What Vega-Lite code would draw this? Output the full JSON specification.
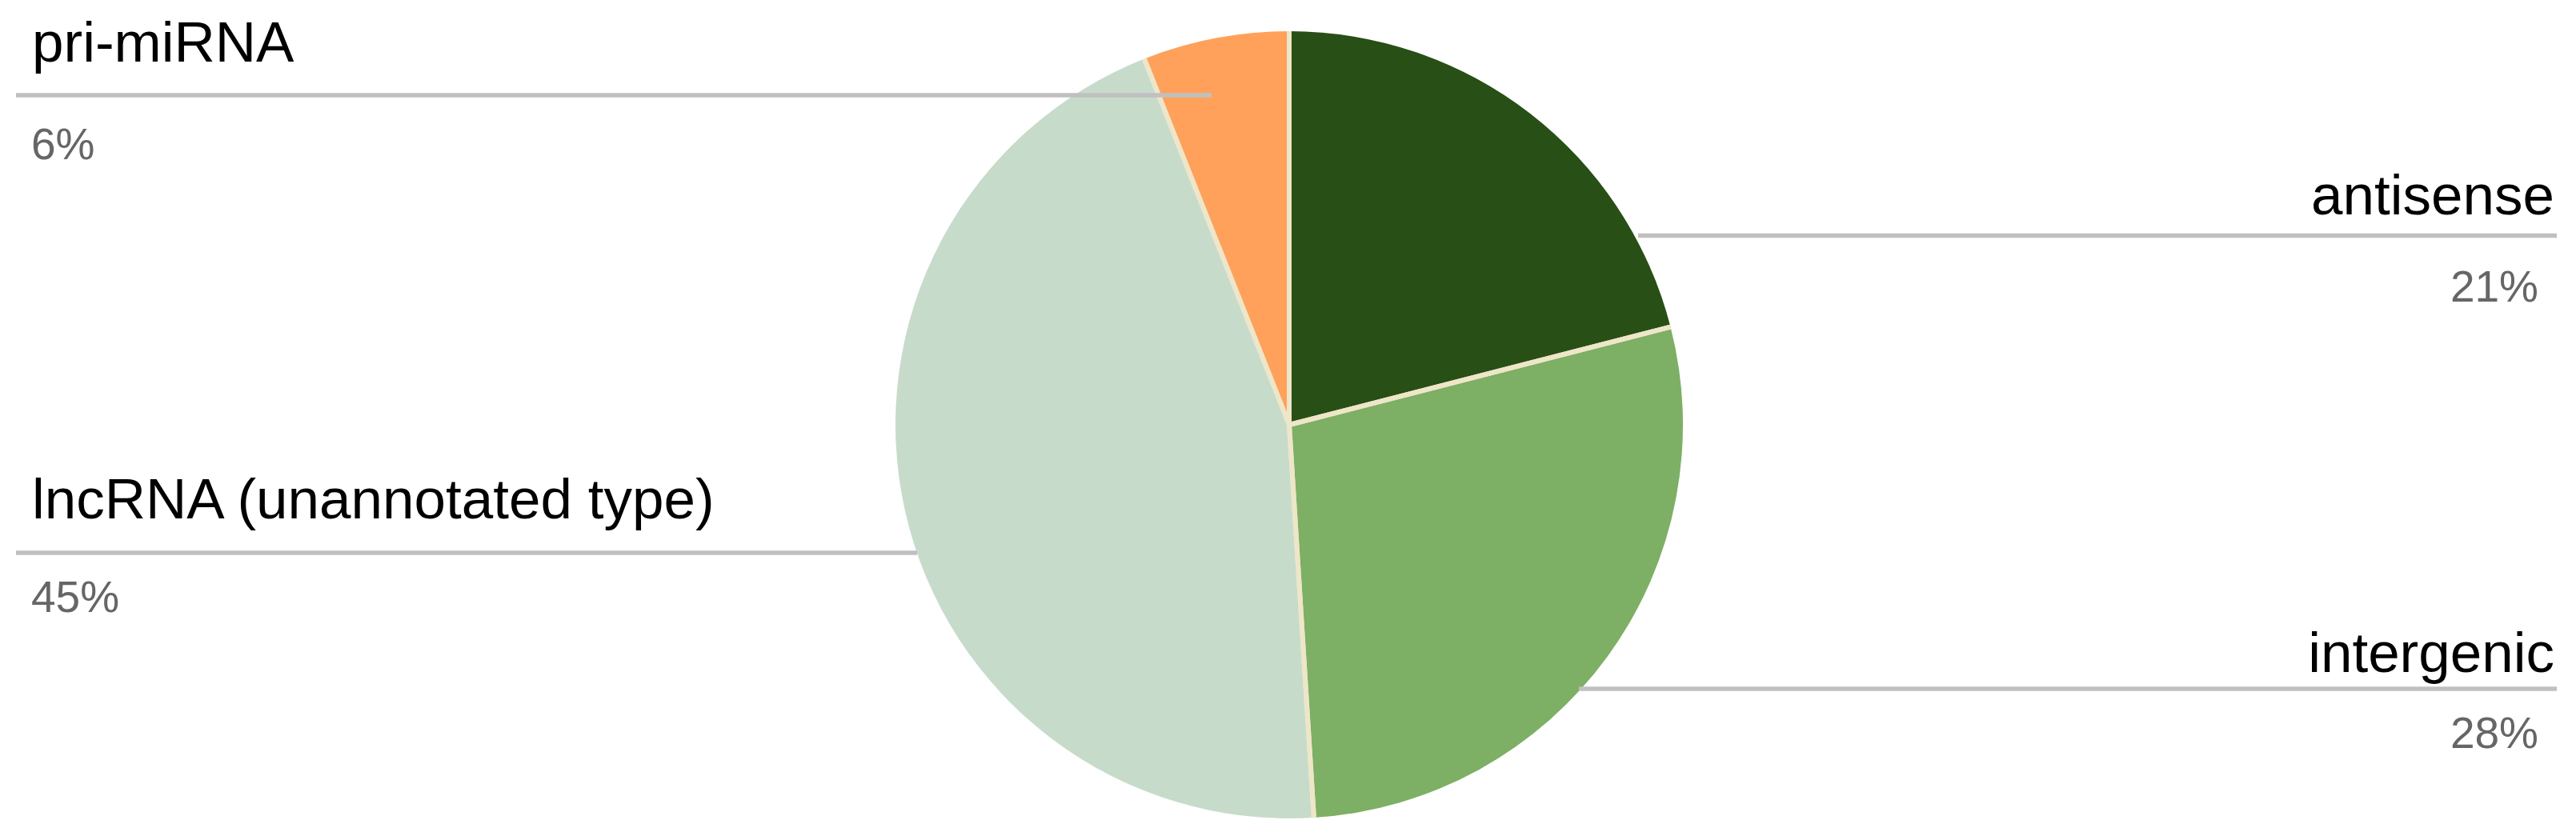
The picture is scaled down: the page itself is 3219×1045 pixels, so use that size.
{
  "$schema": "https://vega.github.io/schema/vega-lite/v6.json",
  "width": 3219,
  "height": 1045,
  "autosize": {"type": "fit", "contains": "padding"},
  "padding": {"left": 3, "top": 17, "right": 0, "bottom": 0},
  "background": "white",
  "config": {"view": {"stroke": null}, "text": {"font": "Liberation Sans"}},
  "data": {
    "values": [
      {"category": "antisense", "value": 0.21},
      {"category": "intergenic", "value": 0.28},
      {"category": "lncRNA (unannotated type)", "value": 0.45},
      {"category": "pri-miRNA", "value": 0.06}
    ]
  },
  "transform": [
    {"window": [{"op": "row_number", "as": "k"}]},
    {"stack": "value", "groupby": [], "sort": [{"field": "category"}], "as": ["v0", "v1"]}
  ],
  "resolve": {"scale": {"x": "independent", "y": "independent"}},
  "layer": [
    {
      "mark": {"type": "arc", "outerRadius": 492},
      "encoding": {
        "theta": {"field": "v0", "type": "quantitative", "scale": {"domain": [0, 1], "zero": true, "nice": false}},
        "theta2": {"field": "v1"},
        "color": {
          "field": "category",
          "type": "nominal",
          "legend": null,
          "scale": {
            "domain": ["antisense", "intergenic", "lncRNA (unannotated type)", "pri-miRNA"],
            "range": ["#284f15", "#7daf65", "#c7dbcb", "#ffa15a"]
          }
        }
      }
    },
    {
      "transform": [{"filter": "datum.k == 1"}],
      "mark": {"type": "arc", "outerRadius": 492, "fillOpacity": 0, "stroke": "#eee6c9", "strokeWidth": 6, "strokeJoin": "round", "strokeDash": [0, 649.2, 984, 9000]},
      "encoding": {
        "theta": {"field": "v0", "type": "quantitative", "scale": {"domain": [0, 1], "zero": true, "nice": false}},
        "theta2": {"field": "v1"}
      }
    },
    {
      "transform": [{"filter": "datum.k == 2"}],
      "mark": {"type": "arc", "outerRadius": 492, "fillOpacity": 0, "stroke": "#eee6c9", "strokeWidth": 6, "strokeJoin": "round", "strokeDash": [0, 865.6, 984, 9000]},
      "encoding": {
        "theta": {"field": "v0", "type": "quantitative", "scale": {"domain": [0, 1], "zero": true, "nice": false}},
        "theta2": {"field": "v1"}
      }
    },
    {
      "transform": [{"filter": "datum.k == 3"}],
      "mark": {"type": "arc", "outerRadius": 492, "fillOpacity": 0, "stroke": "#eee6c9", "strokeWidth": 6, "strokeJoin": "round", "strokeDash": [0, 1391.1, 984, 9000]},
      "encoding": {
        "theta": {"field": "v0", "type": "quantitative", "scale": {"domain": [0, 1], "zero": true, "nice": false}},
        "theta2": {"field": "v1"}
      }
    },
    {
      "transform": [{"filter": "datum.k == 4"}],
      "mark": {"type": "arc", "outerRadius": 492, "fillOpacity": 0, "stroke": "#eee6c9", "strokeWidth": 6, "strokeJoin": "round", "strokeDash": [0, 185.5, 984, 9000]},
      "encoding": {
        "theta": {"field": "v0", "type": "quantitative", "scale": {"domain": [0, 1], "zero": true, "nice": false}},
        "theta2": {"field": "v1"}
      }
    },
    {
      "transform": [{"filter": "datum.k <= 2"}],
      "mark": {"type": "rule", "color": "#c0c0c0", "strokeWidth": 5.5},
      "encoding": {
        "x": {"field": "k", "type": "quantitative", "axis": null,
              "scale": {"domain": [1, 2, 5], "range": [2044, 1970, 3192], "nice": false, "zero": false}},
        "x2": {"datum": 5},
        "y": {"field": "k", "type": "quantitative", "axis": null,
              "scale": {"domain": [1, 2, 3, 4], "range": [277.5, 844, 674, 102], "nice": false, "zero": false}}
      }
    },
    {
      "transform": [{"filter": "datum.k >= 3"}],
      "mark": {"type": "rule", "color": "#c0c0c0", "strokeWidth": 5.5},
      "encoding": {
        "x": {"field": "k", "type": "quantitative", "axis": null,
              "scale": {"domain": [0, 3, 4], "range": [17, 1143, 1511], "nice": false, "zero": false}},
        "x2": {"datum": 0},
        "y": {"field": "k", "type": "quantitative", "axis": null,
              "scale": {"domain": [1, 2, 3, 4], "range": [277.5, 844, 674, 102], "nice": false, "zero": false}}
      }
    },
    {
      "transform": [{"filter": "datum.k <= 2"}],
      "mark": {"type": "text", "align": "right", "baseline": "alphabetic", "fontSize": 71, "color": "#000000"},
      "encoding": {
        "x": {"field": "k", "type": "quantitative", "axis": null,
              "scale": {"domain": [1, 2], "range": [3189, 3189], "nice": false, "zero": false}},
        "y": {"field": "k", "type": "quantitative", "axis": null,
              "scale": {"domain": [1, 2, 3, 4], "range": [251, 823, 631, 60], "nice": false, "zero": false}},
        "text": {"field": "category", "type": "nominal"}
      }
    },
    {
      "transform": [{"filter": "datum.k >= 3"}],
      "mark": {"type": "text", "align": "left", "baseline": "alphabetic", "fontSize": 71, "color": "#000000"},
      "encoding": {
        "x": {"field": "k", "type": "quantitative", "axis": null,
              "scale": {"domain": [3, 4], "range": [37, 37], "nice": false, "zero": false}},
        "y": {"field": "k", "type": "quantitative", "axis": null,
              "scale": {"domain": [1, 2, 3, 4], "range": [251, 823, 631, 60], "nice": false, "zero": false}},
        "text": {"field": "category", "type": "nominal"}
      }
    },
    {
      "transform": [{"filter": "datum.k <= 2"}],
      "mark": {"type": "text", "align": "right", "baseline": "alphabetic", "fontSize": 55, "color": "#666666"},
      "encoding": {
        "x": {"field": "k", "type": "quantitative", "axis": null,
              "scale": {"domain": [1, 2], "range": [3169, 3169], "nice": false, "zero": false}},
        "y": {"field": "k", "type": "quantitative", "axis": null,
              "scale": {"domain": [1, 2, 3, 4], "range": [360, 918, 748, 182], "nice": false, "zero": false}},
        "text": {"field": "value", "type": "quantitative", "format": ".0%"}
      }
    },
    {
      "transform": [{"filter": "datum.k >= 3"}],
      "mark": {"type": "text", "align": "left", "baseline": "alphabetic", "fontSize": 55, "color": "#666666"},
      "encoding": {
        "x": {"field": "k", "type": "quantitative", "axis": null,
              "scale": {"domain": [3, 4], "range": [36, 36], "nice": false, "zero": false}},
        "y": {"field": "k", "type": "quantitative", "axis": null,
              "scale": {"domain": [1, 2, 3, 4], "range": [360, 918, 748, 182], "nice": false, "zero": false}},
        "text": {"field": "value", "type": "quantitative", "format": ".0%"}
      }
    }
  ]
}
